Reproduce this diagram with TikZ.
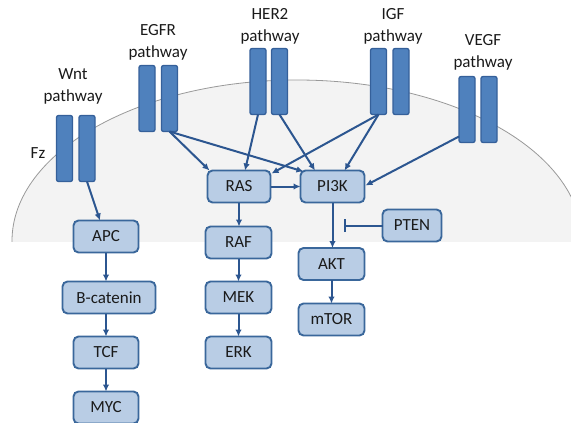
\documentclass[tikz,border=0pt]{standalone}
\usepackage{fontspec}
\setmainfont{Carlito}
\usetikzlibrary{arrows.meta,calc}
\definecolor{boxfill}{HTML}{B9CDE5}
\definecolor{boxline}{HTML}{3A679B}
\definecolor{recfill}{HTML}{4F81BD}
\definecolor{recline}{HTML}{35609A}
\definecolor{arr}{HTML}{2C5690}
\definecolor{cell}{HTML}{F3F3F3}
\definecolor{txt}{HTML}{1A1A1A}
\begin{document}
\begin{tikzpicture}[x=1pt,y=-1pt,
  font=\fontsize{17}{22}\selectfont, text=txt,
  protein/.style={draw=boxline, fill=boxfill, line width=1.9pt, rounded corners=5pt,
    inner sep=0pt, outer sep=0pt, minimum height=32pt},
  receptor/.style={draw=recline, fill=recfill, line width=1.3pt, rounded corners=2pt,
    inner sep=0pt, outer sep=0pt, minimum width=16pt, minimum height=66pt},
  lab/.style={align=center, inner sep=0pt},
  act/.style={draw=arr, line width=2pt, -{Latex[length=7pt,width=6.5pt]}},
  inhib/.style={draw=arr, line width=2pt, -{Bar[width=13pt,line width=2pt]}}]
\useasboundingbox (0,0) rectangle (571,423);
% cell
\begin{scope}
  \clip (0,0) rectangle (571,241);
  \fill[cell] (297,241) ellipse [x radius=285pt, y radius=161pt];
  \draw[gray!80, line width=0.8pt] (297,241) ellipse [x radius=285pt, y radius=161pt];
\end{scope}
% receptors
\node[receptor] (wntL) at (64.5,148.5) {};
\node[receptor] (wntR) at (87,148.5) {};
\node[receptor] (egfrL) at (147,98.5) {};
\node[receptor] (egfrR) at (169.5,98.5) {};
\node[receptor] (her2L) at (258,81.5) {};
\node[receptor] (her2R) at (279.5,81.5) {};
\node[receptor] (igfL) at (378.5,81.5) {};
\node[receptor] (igfR) at (401,81.5) {};
\node[receptor] (vegfL) at (467,109.5) {};
\node[receptor] (vegfR) at (489,109.5) {};
% labels
\node[lab] (wntlab) at (73,86) {Wnt\\pathway};
\node[lab] (egfrlab) at (158,42.5) {EGFR\\pathway};
\node[lab] (her2lab) at (270,26) {HER2\\pathway};
\node[lab] (igflab) at (393,26) {IGF\\pathway};
\node[lab] (vegflab) at (483,52.5) {VEGF\\pathway};
\node[lab] (fz) at (38,153) {Fz};
% proteins
\node[protein, minimum width=65pt] (apc) at (106,236.5) {APC};
\node[protein, minimum width=93pt] (bcat) at (109,297.5) {B-catenin};
\node[protein, minimum width=65pt] (tcf) at (106,352.5) {TCF};
\node[protein, minimum width=65pt] (myc) at (106,407.5) {MYC};
\node[protein, minimum width=63pt] (ras) at (239,186.5) {RAS};
\node[protein, minimum width=66pt] (raf) at (238.5,242.5) {RAF};
\node[protein, minimum width=66pt] (mek) at (238.5,297.5) {MEK};
\node[protein, minimum width=66pt] (erk) at (238.5,352.5) {ERK};
\node[protein, minimum width=64pt] (pi3k) at (332.5,186.5) {PI3K};
\node[protein, minimum width=59pt] (pten) at (412,225.5) {PTEN};
\node[protein, minimum width=66pt] (akt) at (331.5,264) {AKT};
\node[protein, minimum width=66pt] (mtor) at (331.5,319.5) {mTOR};
% connectors
\draw[act] (wntR.south) -- ($(apc.north)+(-6,0)$);
\draw[act] (apc.south) -- (apc.south |- bcat.north);
\draw[act] (apc.south |- bcat.south) -- (tcf.north);
\draw[act] (tcf.south) -- (myc.north);
\draw[act] (egfrR.south) -- ($(ras.north west)+(2,0)$);
\draw[act] (egfrR.south) -- ($(pi3k.north west)+(3,1)$);
\draw[act] (her2L.south) -- ($(ras.north)+(6,0)$);
\draw[act] (her2R.south) -- ($(pi3k.north)+(-17.5,0)$);
\draw[act] (igfL.south) -- ($(ras.north east)+(1,3)$);
\draw[act] (igfL.south) -- ($(pi3k.north)+(12,0)$);
\draw[act] ($(vegfL.south west)+(0,-6)$) -- ($(pi3k.east)+(1,-1)$);
\draw[act] (ras.east) -- (pi3k.west);
\draw[act] (ras.south) -- (ras.south |- raf.north);
\draw[act] (raf.south) -- (mek.north);
\draw[act] (mek.south) -- (erk.north);
\draw[act] (pi3k.south) -- (pi3k.south |- akt.north);
\draw[act] (akt.south) -- (mtor.north);
\coordinate (inh) at ($(pten.west)+(-39,0)$);
\draw[inhib] (pten.west) -- (inh);
\end{tikzpicture}
\end{document}
